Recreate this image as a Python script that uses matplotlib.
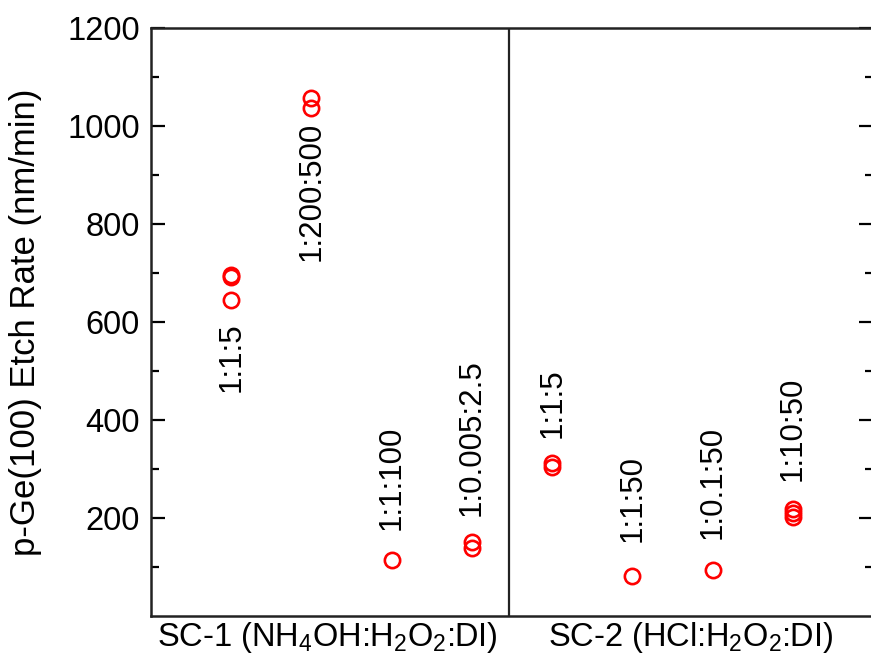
import matplotlib.pyplot as plt
import numpy as np

plt.rcParams['font.family'] = ['Liberation Sans', 'DejaVu Sans']
plt.rcParams['mathtext.fontset'] = 'custom'
plt.rcParams['mathtext.rm'] = 'Liberation Sans'
plt.rcParams['mathtext.it'] = 'Liberation Sans:italic'

# ratios (x position = group index), etch rates
ratios = ['1:1:5', '1:200:500', '1:1:100', '1:0.005:2.5',
          '1:1:5', '1:1:50', '1:0.1:50', '1:10:50']
rates = [[695, 692, 645],
         [1058, 1037],
         [115],
         [150, 138],
         [312, 305],
         [82],
         [94],
         [218, 210, 203]]
groups = ['SC-1 (NH$_4$OH:H$_2$O$_2$:DI)', 'SC-2 (HCl:H$_2$O$_2$:DI)']
group_centers = [2.2, 6.73]
divider = 4.46

# label placement: offset in points from the top point (+) or bottom point (-)
label_off = [-16, -10, 21, 19, 18, 24, 22, 20]

fig = plt.figure(figsize=(8.71, 6.64), dpi=100)
ax = fig.add_axes([0.1734, 0.0723, 0.829, 0.8855])

for i, (lab, vals) in enumerate(zip(ratios, rates)):
    x = np.full(len(vals), i + 1.0)
    ax.plot(x, vals, 'o', ls='none', mfc='none', mec='red', ms=11, mew=1.9)
    off = label_off[i]
    if off > 0:
        ax.annotate(lab, (i + 1, max(vals)), xytext=(0, off), textcoords='offset points',
                    rotation=90, ha='center', va='bottom', fontsize=22.5)
    else:
        ax.annotate(lab, (i + 1, min(vals)), xytext=(0, off), textcoords='offset points',
                    rotation=90, ha='center', va='top', fontsize=22.5)

ax.axvline(divider, color='#222222', lw=1.6)

ax.set_xlim(0, 9)
ax.set_ylim(0, 1200)
ax.set_yticks([200, 400, 600, 800, 1000, 1200])
ax.set_yticks(np.arange(100, 1200, 200), minor=True)
ax.tick_params(axis='y', which='both', direction='in', right=True, width=1.6, labelsize=23.5, pad=8)
ax.tick_params(axis='y', which='major', length=10)
ax.tick_params(axis='y', which='minor', length=6)
ax.set_xticks(group_centers)
ax.set_xticklabels(groups)
ax.tick_params(axis='x', length=0, labelsize=23.5, pad=3)

ax.set_ylabel('p-Ge(100) Etch Rate (nm/min)', fontsize=25, labelpad=18)

for s in ax.spines.values():
    s.set_linewidth(1.8)
    s.set_color('#222222')

fig.savefig('out.png', dpi=100)
